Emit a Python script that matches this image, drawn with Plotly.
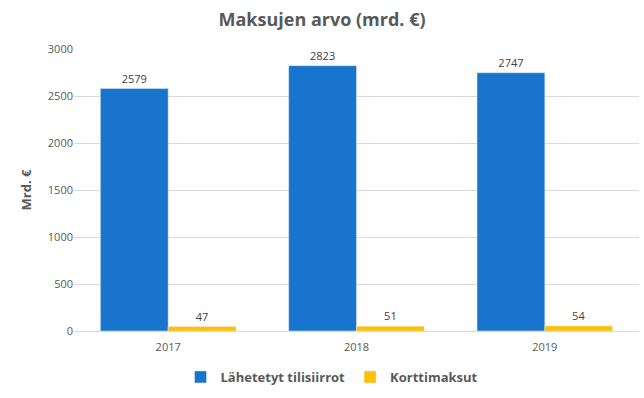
import plotly.graph_objects as go

years = ["2017", "2018", "2019"]
tilisiirrot = [2579, 2823, 2747]
korttimaksut = [47, 51, 54]
y_ticks = [0, 500, 1000, 1500, 2000, 2500, 3000]

font = "Open Sans, Liberation Sans, sans-serif"
gray = "#595959"

fig = go.Figure()
fig.add_bar(x=years, y=tilisiirrot, name="<b>Lähetetyt tilisiirrot</b>", marker_color="#1874CD",
            text=tilisiirrot, textposition="outside", cliponaxis=False,
            textfont=dict(size=11, color="#404040"))
fig.add_bar(x=years, y=korttimaksut, name="<b>Korttimaksut</b>", marker_color="#FFC000",
            text=korttimaksut, textposition="outside", cliponaxis=False,
            textfont=dict(size=11, color="#404040"))

fig.update_layout(
    width=644, height=398,
    margin=dict(l=74, r=5, t=49, b=67, autoexpand=False),
    paper_bgcolor="white", plot_bgcolor="white",
    barmode="group", bargap=0.28, bargroupgap=0,
    font=dict(family=font, color=gray, size=11),
    title=dict(text="<b>Maksujen arvo (mrd. €)</b>", x=0.5, xanchor="center",
               yref="container", y=1 - 20 / 398, yanchor="middle",
               font=dict(size=18, color=gray)),
    legend=dict(orientation="h", xref="container", x=332 / 644, xanchor="center",
                yref="container", y=1 - 377 / 398, yanchor="middle",
                font=dict(size=13, color=gray), itemwidth=30, tracegroupgap=0),
)
fig.update_yaxes(range=[0, 3000], tickvals=y_ticks, showgrid=True, gridcolor="#D9D9D9",
                 zeroline=False, showline=False, ticks="", automargin=False,
                 title=dict(text="<b>Mrd. €</b>", font=dict(size=13, color=gray), standoff=13),
                 tickfont=dict(size=11, color=gray))
fig.update_xaxes(showline=True, linecolor="#D9D9D9", ticks="", automargin=False,
                 ticklabelstandoff=6, tickfont=dict(size=11, color=gray))
fig.update_traces(textangle=0)

fig.write_html("out.html", config={"displayModeBar": False},
               post_script="document.body.style.margin='0';document.body.style.overflow='hidden';")
